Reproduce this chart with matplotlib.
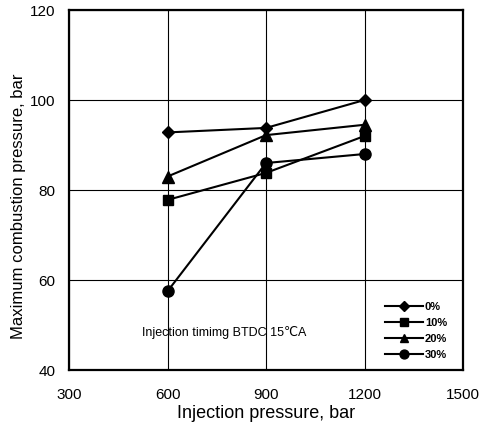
import matplotlib
matplotlib.use('Agg')
import matplotlib.pyplot as plt

plt.rcParams['font.family'] = ['Liberation Sans', 'DejaVu Sans']

# data
pressure = [600, 900, 1200]
labels = ['0%', '10%', '20%', '30%']
markers = ['D', 's', '^', 'o']
pmax = [
    [92.8, 93.8, 100.0],
    [77.8, 83.8, 92.0],
    [83.0, 92.2, 94.5],
    [57.5, 86.0, 88.0],
]
msizes = [6.5, 7.5, 8, 8]

fig = plt.figure(figsize=(4.84, 4.25), dpi=100)
ax = fig.add_axes([0.1426, 0.1294, 0.814, 0.847])

for lab, mk, ms, y in zip(labels, markers, msizes, pmax):
    ax.plot(pressure, y, color='black', marker=mk, markersize=ms, lw=1.5, label=lab)

ax.set_xlim(300, 1500)
ax.set_ylim(40, 120)
ax.set_xticks([300, 600, 900, 1200, 1500])
ax.set_yticks([40, 60, 80, 100, 120])
ax.grid(color='black', lw=0.8)
for s in ax.spines.values():
    s.set_linewidth(1.6)
ax.tick_params(direction='in', length=0, labelsize=11)
ax.tick_params(axis='y', pad=10)
ax.tick_params(axis='x', pad=13)

ax.set_xlabel('Injection pressure, bar', fontsize=13, labelpad=2)
ax.set_ylabel('Maximum combustion pressure, bar', fontsize=12, va='center')
ax.yaxis.set_label_coords(-0.127, 0.455)
ax.text(0.185, 0.103, 'Injection timimg BTDC 15\u2103A', transform=ax.transAxes,
        fontsize=9, va='center')

ax.legend(loc='lower right', frameon=False, handlelength=3.4, markerscale=0.8,
          labelspacing=0.55, handletextpad=0.2, prop={'weight': 'bold', 'size': 8},
          bbox_to_anchor=(0.985, 0.0))

fig.savefig('out.png', dpi=100, facecolor='white')
